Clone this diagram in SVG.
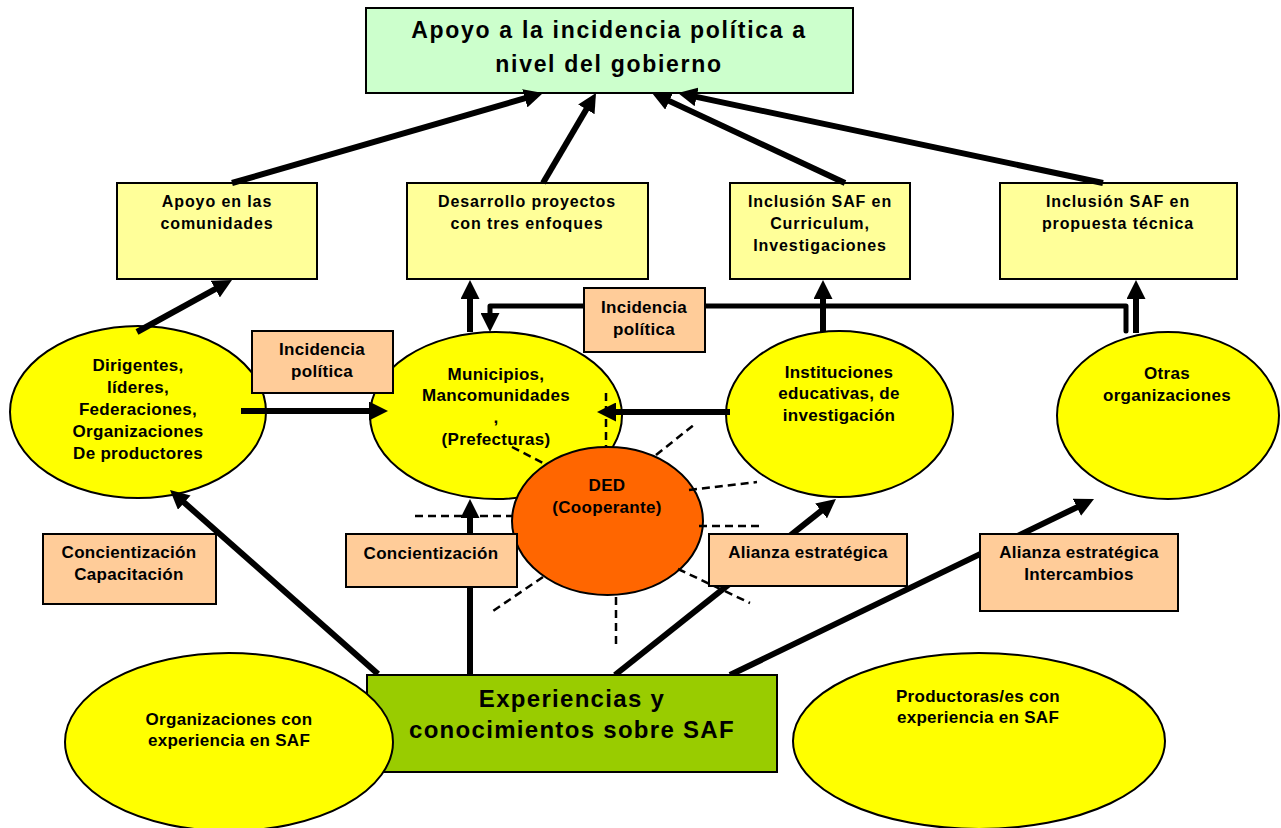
<svg xmlns="http://www.w3.org/2000/svg" width="1281" height="828" viewBox="0 0 1281 828">
<defs>
<marker id="ah" markerUnits="userSpaceOnUse" markerWidth="19" markerHeight="19" viewBox="0 0 19 19" refX="5" refY="9.5" orient="auto">
<path d="M0,0 L19,9.5 L0,19 z" fill="#000"/>
</marker>
</defs>
<style>
text{font-family:"Liberation Sans",Arial,sans-serif;font-weight:bold;text-anchor:middle;fill:#000}
.t23{font-size:23px;letter-spacing:1.7px}
.t24{font-size:24px;letter-spacing:1.3px}
.t16{font-size:16px;letter-spacing:0.9px}
.t17{font-size:17px;letter-spacing:0.3px}
.box{stroke:#000;stroke-width:2}
.goal{fill:#CCFFCC}
.res{fill:#FFFF99}
.ell{fill:#FFFF00;stroke:#000;stroke-width:2}
.peach{fill:#FFCC99}
.ded{fill:#FF6600;stroke:#000;stroke-width:2}
.green{fill:#99CC00}
.arr{stroke:#000;stroke-width:6;fill:none;marker-end:url(#ah)}
.conn{stroke:#000;stroke-width:5;fill:none;stroke-linejoin:round;stroke-linecap:round;marker-end:url(#ah)}
.dash{stroke:#000;stroke-width:2.5;fill:none;stroke-dasharray:8 5}
</style>
<rect width="1281" height="828" fill="#fff"/>

<g id="goal">
<rect class="box goal" x="366" y="8" width="487" height="85"/>
<text class="t23" x="609" y="38">Apoyo a la incidencia política a</text>
<text class="t23" x="609" y="72">nivel del gobierno</text>
</g>

<g id="res-comunidades">
<rect class="box res" x="117" y="183" width="200" height="96"/>
<text class="t16" x="217" y="207">Apoyo en las</text>
<text class="t16" x="217" y="229">comunidades</text>
</g>
<g id="res-proyectos">
<rect class="box res" x="407" y="183" width="241" height="96"/>
<text class="t16" x="527" y="207">Desarrollo proyectos</text>
<text class="t16" x="527" y="229">con tres enfoques</text>
</g>
<g id="res-curriculum">
<rect class="box res" x="730" y="183" width="180" height="96"/>
<text class="t16" x="820" y="207">Inclusión SAF en</text>
<text class="t16" x="820" y="229">Curriculum,</text>
<text class="t16" x="820" y="251">Investigaciones</text>
</g>
<g id="res-propuesta">
<rect class="box res" x="1000" y="183" width="237" height="96"/>
<text class="t16" x="1118" y="207">Inclusión SAF en</text>
<text class="t16" x="1118" y="229">propuesta técnica</text>
</g>

<g id="dirigentes">
<ellipse class="ell" cx="138" cy="412" rx="128" ry="86"/>
<text class="t17" x="138" y="371">Dirigentes,</text>
<text class="t17" x="138" y="393">líderes,</text>
<text class="t17" x="138" y="415">Federaciones,</text>
<text class="t17" x="138" y="437">Organizaciones</text>
<text class="t17" x="138" y="459">De productores</text>
</g>
<g id="municipios">
<ellipse class="ell" cx="496" cy="415.5" rx="126" ry="83.5"/>
<text class="t17" x="496" y="380">Municipios,</text>
<text class="t17" x="496" y="401">Mancomunidades</text>
<text class="t17" x="496" y="423">,</text>
<text class="t17" x="496" y="445">(Prefecturas)</text>
</g>
<g id="instituciones">
<ellipse class="ell" cx="839.5" cy="414" rx="113.5" ry="83"/>
<text class="t17" x="839" y="378">Instituciones</text>
<text class="t17" x="839" y="399">educativas, de</text>
<text class="t17" x="839" y="421">investigación</text>
</g>
<g id="otras">
<ellipse class="ell" cx="1168" cy="415.5" rx="111" ry="83.5"/>
<text class="t17" x="1167" y="379">Otras</text>
<text class="t17" x="1167" y="401">organizaciones</text>
</g>

<g id="connectors">
<line class="arr" x1="232" y1="183" x2="529.6" y2="96.9"/>
<line class="arr" x1="543" y1="183" x2="588.9" y2="105.1"/>
<line class="arr" x1="845" y1="183" x2="664.7" y2="98.9"/>
<line class="arr" x1="1103" y1="183" x2="691.7" y2="95.9"/>
<line class="arr" x1="137" y1="332" x2="219.7" y2="286.7"/>
<line class="arr" x1="241" y1="411" x2="374" y2="411"/>
<line class="arr" x1="470" y1="332" x2="470" y2="294"/>
<path class="conn" d="M1126,331 V306 H490 V318"/>
<line class="arr" x1="823" y1="332" x2="823" y2="294"/>
<line class="arr" x1="1136" y1="333" x2="1136" y2="294"/>
<line class="arr" x1="730" y1="412" x2="611" y2="412"/>
<line class="arr" x1="378" y1="674" x2="180.5" y2="499.3"/>
<line class="arr" x1="470" y1="675" x2="470" y2="513"/>
<line class="arr" x1="615" y1="675" x2="825" y2="507.8"/>
<line class="arr" x1="730" y1="675" x2="1081.4" y2="505.1"/>
</g>

<g id="ded">
<ellipse class="ded" cx="607.5" cy="521" rx="95.5" ry="74"/>
<text class="t17" x="607" y="491">DED</text>
<text class="t17" x="607" y="513">(Cooperante)</text>
<line class="dash" x1="606" y1="393" x2="606" y2="446"/>
<line class="dash" x1="512" y1="447" x2="543" y2="463"/>
<line class="dash" x1="656" y1="455" x2="695" y2="424"/>
<line class="dash" x1="689" y1="490" x2="757" y2="482"/>
<line class="dash" x1="699" y1="526" x2="763" y2="526"/>
<line class="dash" x1="678" y1="569" x2="750" y2="603"/>
<line class="dash" x1="616" y1="597" x2="616" y2="648"/>
<line class="dash" x1="543" y1="577" x2="490" y2="613"/>
<line class="dash" x1="415" y1="516" x2="512" y2="516"/>
</g>

<g id="lbl-incidencia-1">
<rect class="box peach" x="252" y="331" width="141" height="62"/>
<text class="t17" x="322" y="355">Incidencia</text>
<text class="t17" x="322" y="377">política</text>
</g>
<g id="lbl-incidencia-2">
<rect class="box peach" x="584" y="288" width="121" height="64"/>
<text class="t17" x="644" y="313">Incidencia</text>
<text class="t17" x="644" y="335">política</text>
</g>
<g id="lbl-concientizacion-capacitacion">
<rect class="box peach" x="43" y="534" width="173" height="70"/>
<text class="t17" x="129" y="558">Concientización</text>
<text class="t17" x="129" y="580">Capacitación</text>
</g>
<g id="lbl-concientizacion">
<rect class="box peach" x="346" y="534" width="171" height="53"/>
<text class="t17" x="431" y="559">Concientización</text>
</g>
<g id="lbl-alianza">
<rect class="box peach" x="709" y="534" width="198" height="52"/>
<text class="t17" x="808" y="558">Alianza estratégica</text>
</g>
<g id="lbl-alianza-intercambios">
<rect class="box peach" x="980" y="534" width="198" height="77"/>
<text class="t17" x="1079" y="558">Alianza estratégica</text>
<text class="t17" x="1079" y="580">Intercambios</text>
</g>

<g id="experiencias">
<rect class="box green" x="367" y="675" width="410" height="97"/>
<text class="t24" x="572" y="707">Experiencias y</text>
<text class="t24" x="572" y="738">conocimientos sobre SAF</text>
</g>
<g id="org-experiencia">
<ellipse class="ell" cx="229" cy="742" rx="164" ry="89"/>
<text class="t17" x="229" y="725">Organizaciones con</text>
<text class="t17" x="229" y="746">experiencia en SAF</text>
</g>
<g id="productoras">
<ellipse class="ell" cx="979" cy="741" rx="186" ry="88"/>
<text class="t17" x="978" y="702">Productoras/es con</text>
<text class="t17" x="978" y="723">experiencia en SAF</text>
</g>
</svg>
